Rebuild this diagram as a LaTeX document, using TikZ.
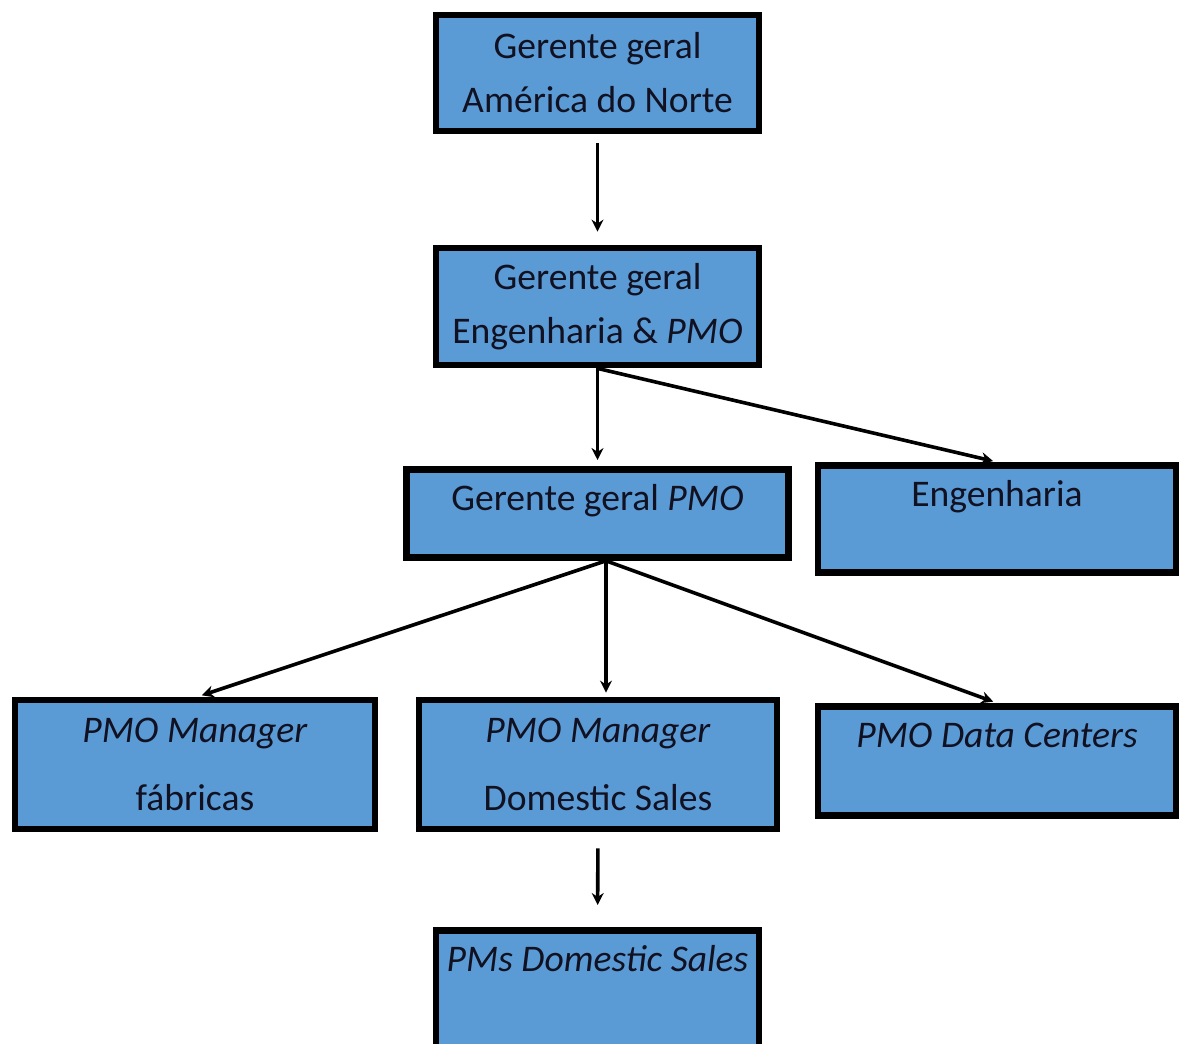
\documentclass[tikz,border=0pt]{standalone}
\usepackage{fontspec}
\setmainfont{Carlito}
\usepackage{tikz}
\usetikzlibrary{arrows.meta, positioning}
\definecolor{orgblue}{HTML}{5B9BD5}
\definecolor{orgtext}{HTML}{111122}

\begin{document}
\begin{tikzpicture}[x=0.5pt, y=-0.5pt,
		orgbox/.style={draw=black, line width=3.4pt, fill=orgblue, inner sep=0pt,
			align=center, text=orgtext, font=\fontsize{18.8}{27}\selectfont},
		widebox/.style={orgbox, font=\fontsize{18.8}{34}\selectfont},
		topbox/.style={orgbox, anchor=north, text height=20.5pt},
		orgarrow/.style={line width=1.8pt, -{Stealth[length=6pt, width=6pt]}}]
	\useasboundingbox (0,0) rectangle (1181,1043);

	\node[orgbox, minimum width=161.5pt, minimum height=58pt] (geral) at (597.5,73)
		{Gerente geral\\América do Norte};
	\node[orgbox, minimum width=161.5pt, minimum height=58.5pt] (engpmo) at (597.5,306.5)
		{Gerente geral\\Engenharia \& \textit{PMO}};
	\node[topbox, minimum width=191pt, text depth=23.5pt] (pmo) at (597.5,466)
		{Gerente geral \textit{PMO}};
	\node[topbox, minimum width=179pt, text depth=33pt] (eng) at (997,462)
		{Engenharia};
	\node[widebox, minimum width=180pt, minimum height=64.5pt] (fab) at (195,764.5)
		{\textit{PMO Manager}\\fábricas};
	\node[widebox, minimum width=179pt, minimum height=64.5pt] (dom) at (598,764.5)
		{\textit{PMO Manager}\\Domestic Sales};
	\node[topbox, minimum width=179pt, text depth=34pt] (dc) at (997,703)
		{\textit{PMO Data Centers}};
	\node[topbox, minimum width=161.5pt, text depth=41.5pt] (pms) at (597.5,927)
		{\textit{PMs Domestic Sales}};

	\coordinate (fork) at ([xshift=4.25pt]pmo.south);

	\draw[orgarrow, shorten <=4.5pt, shorten >=6.5pt] (geral.south) -- (engpmo.north);
	\draw[orgarrow, shorten >=3pt] (engpmo.south) -- (pmo.north);
	\draw[orgarrow, shorten >=2pt] (engpmo.south) -- (eng.north);
	\draw[orgarrow, shorten >=2pt] (fork) -- ([xshift=1.5pt]fab.north);
	\draw[orgarrow, shorten >=2pt] (fork) -- (fork |- dom.north);
	\draw[orgarrow, shorten >=2pt] (fork) -- (dc.north);
	\draw[orgarrow, shorten <=8pt, shorten >=11pt] (dom.south) -- (pms.north);
\end{tikzpicture}
\end{document}
